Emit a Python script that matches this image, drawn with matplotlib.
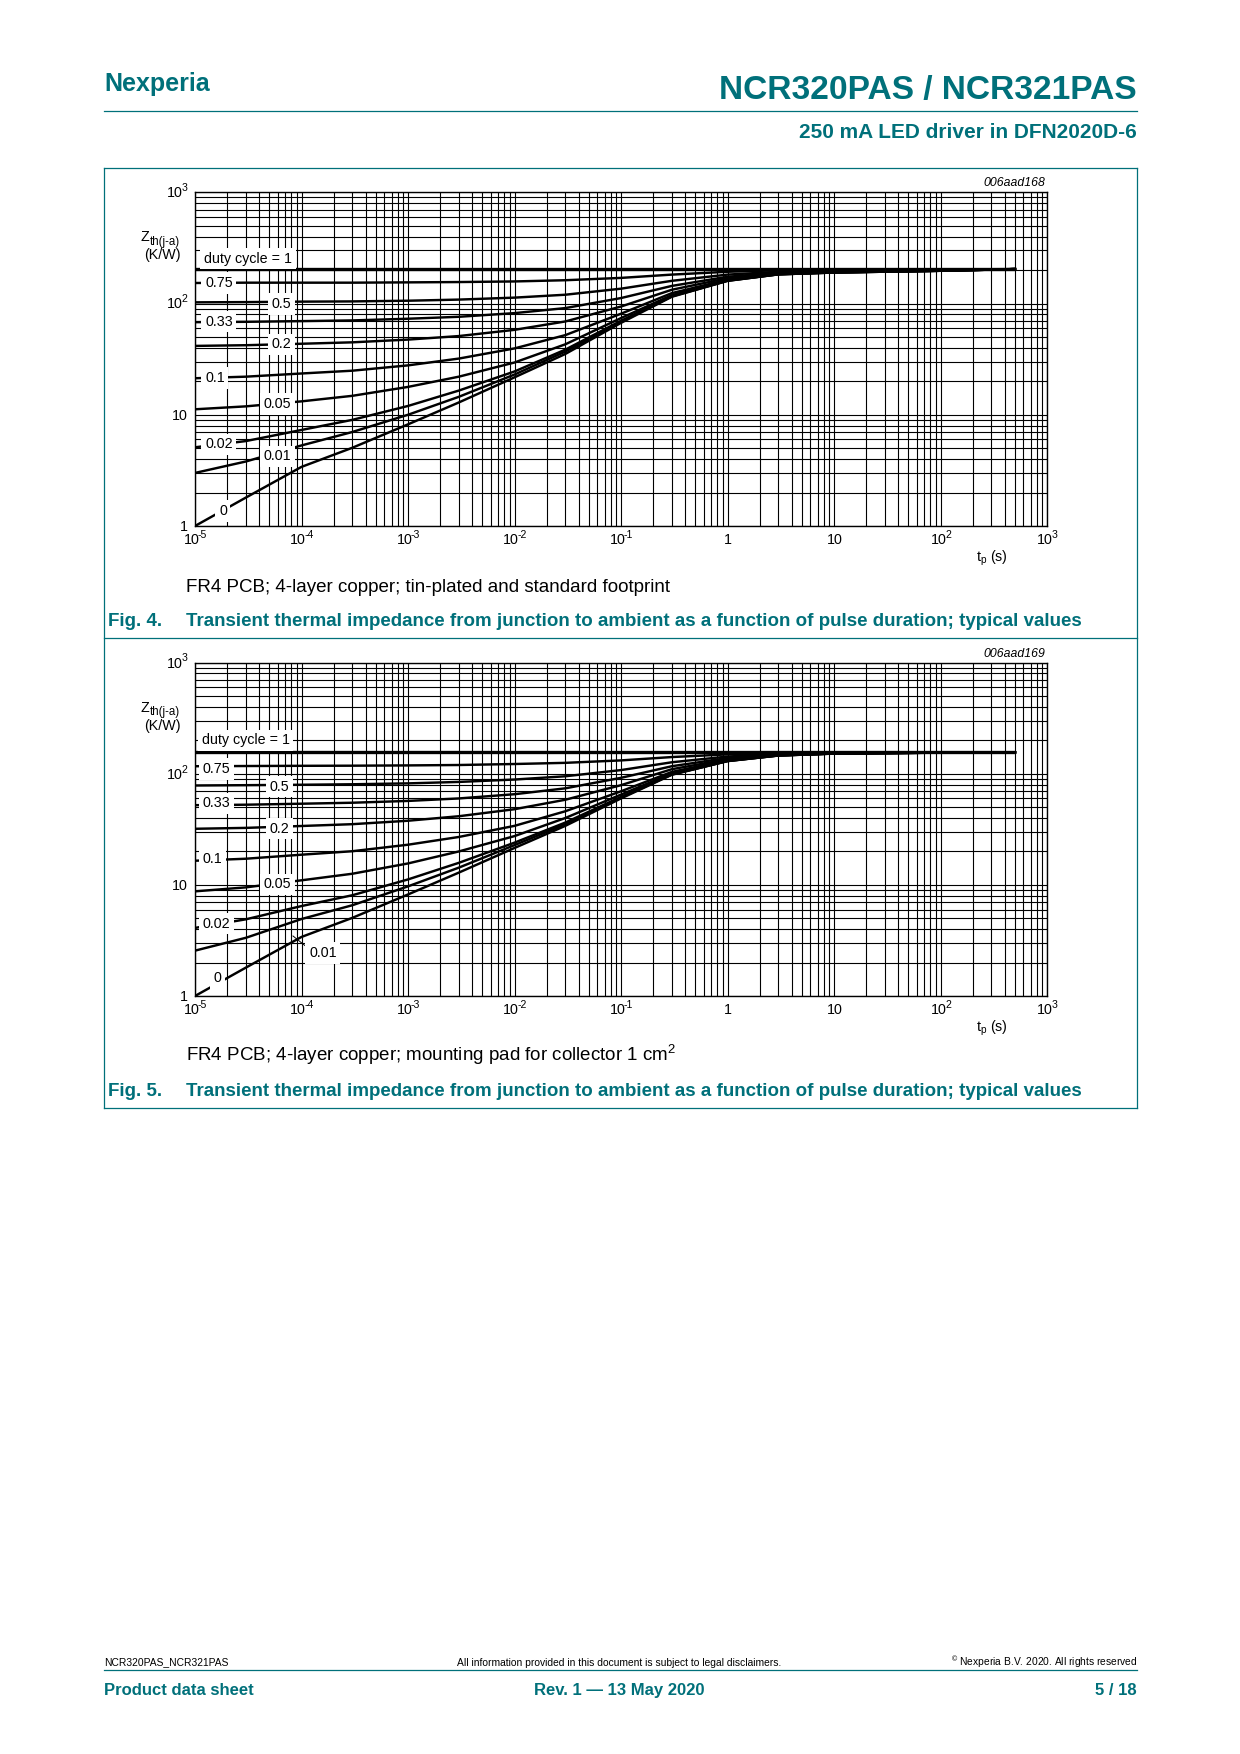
import matplotlib
matplotlib.use('Agg')
import matplotlib.pyplot as plt
import numpy as np
from matplotlib.ticker import LogLocator, FixedLocator, NullFormatter
from matplotlib.lines import Line2D

plt.rcParams['font.family'] = ['Liberation Sans', 'DejaVu Sans']
plt.rcParams['mathtext.fontset'] = 'custom'
plt.rcParams['mathtext.rm'] = 'Liberation Sans'
plt.rcParams['mathtext.it'] = 'Liberation Sans:italic'
plt.rcParams['mathtext.bf'] = 'Liberation Sans:bold'

# ---------------- data ----------------
tp = [1e-5, 3e-5, 1e-4, 3e-4, 1e-3, 3e-3, 1e-2, 3e-2, 1e-1, 3e-1, 1, 3, 10, 100, 500]
tp_flat = [1e-5, 500]

duty_labels = ['duty cycle = 1', '0.75', '0.5', '0.33', '0.2', '0.1', '0.05', '0.02', '0.01', '0']

# Fig. 4 : standard footprint
f4_d1 = [204, 204]
f4_d075 = [153, 154, 154, 154, 155, 156, 158, 162, 170, 182, 193, 199, 201, 202, 204]
f4_d05 = [102.5, 103, 104, 104.5, 106, 108.5, 113, 120, 136, 160, 182, 193, 197, 200, 204]
f4_d033 = [68, 68.5, 69.5, 70.5, 73, 76, 82, 91, 112, 144, 174, 190, 195, 199, 204]
f4_d02 = [41.6, 42.2, 43.5, 44.8, 47.4, 51, 58, 69, 94, 133, 169, 187, 193, 198, 204]
f4_d01 = [21.3, 22, 23.5, 24.9, 27.8, 32, 39.5, 52, 81, 124, 164, 185, 191, 197, 204]
f4_d005 = [11.2, 11.9, 13.2, 14.8, 17.8, 22, 29.5, 43, 74, 119, 162, 184, 191, 197, 204]
f4_d002 = [5.1, 5.8, 7.3, 9.0, 12, 16.5, 24.5, 38.5, 70, 117, 161, 183, 190, 197, 204]
f4_d001 = [3.0, 3.8, 5.3, 7.0, 10, 14.5, 23, 37, 68.5, 116, 160, 183, 190, 197, 204]
f4_d0 = [1.0, 1.8, 3.4, 5.05, 8.2, 12.9, 21.7, 35.2, 67, 115, 160, 183, 190, 197, 204]

# Fig. 5 : mounting pad 1 cm2
f5_d1 = [156, 156]
f5_d075 = [117, 117.5, 118, 118.3, 119, 120, 122.5, 125.5, 132, 141.5, 149.5, 153.5, 155, 155.8, 156]
f5_d05 = [78.5, 79, 79.7, 80.5, 82, 84.5, 88.8, 95, 108, 127, 143, 151, 154, 155.5, 156]
f5_d033 = [52.2, 52.7, 53.8, 54.9, 57, 60, 65.5, 74, 92, 117, 138.6, 149.3, 153.3, 155.4, 156]
f5_d02 = [32, 32.6, 33.9, 35.2, 37.8, 41.5, 48, 58.4, 79, 110, 135, 148, 152.8, 155.2, 156]
f5_d01 = [16.5, 17.2, 18.7, 20.1, 23, 27, 34, 46, 69.6, 104, 132.6, 147, 152.4, 155.1, 156]
f5_d005 = [8.75, 9.5, 11, 12.6, 15.6, 20, 27.5, 40, 65, 101, 131.4, 146.6, 152.3, 155.1, 156]
f5_d002 = [4.1, 4.9, 6.45, 8.07, 11.2, 15.8, 24, 36.4, 62, 99, 130.5, 146.2, 152.1, 155, 156]
f5_d001 = [2.56, 3.34, 4.93, 6.56, 9.7, 14.3, 22.8, 35.2, 61, 98.6, 130.3, 146.1, 152, 155, 156]
f5_d0 = [1.0, 1.8, 3.4, 5.05, 8.2, 12.9, 21.5, 34, 60, 98, 130, 146, 152, 155, 156]

x_ticks = [1e-5, 1e-4, 1e-3, 1e-2, 1e-1, 1, 10, 100, 1000]
x_ticklabels = ['10^-5', '10^-4', '10^-3', '10^-2', '10^-1', '1', '10', '10^2', '10^3']
y_ticks = [1, 10, 100, 1000]
y_ticklabels = ['1', '10', '10^2', '10^3']

# ---------------- figure ----------------
W, H = 1240, 1754
TEAL = '#00707a'
fig = plt.figure(figsize=(W / 100, H / 100), dpi=100)
renderer = fig.canvas.get_renderer()


def T(x, y, s, **kw):
    return fig.text(x / W, 1 - y / H, s, **kw)


def HL(x0, x1, y, color=TEAL, lw=0.9):
    fig.add_artist(Line2D([x0 / W, x1 / W], [1 - y / H, 1 - y / H], color=color, lw=lw,
                          transform=fig.transFigure))


def VL(x, y0, y1, color=TEAL, lw=0.9):
    fig.add_artist(Line2D([x / W, x / W], [1 - y0 / H, 1 - y1 / H], color=color, lw=lw,
                          transform=fig.transFigure))


BASE_FS, EXP_FS = 10.3, 7.6


def power_label(label, x, y, align):
    """Draw '10^-5' style label; x is centre (align='center') or right edge (align='right');
    y is the vertical centre of the base digits (figure px from top)."""
    if '^' in label:
        base, exp = label.split('^')
    else:
        base, exp = label, ''
    tb = T(0, 0, base, fontsize=BASE_FS, ha='left', va='center')
    wb = tb.get_window_extent(renderer).width - 1.5
    we = 0
    te = None
    if exp:
        te = T(0, 0, exp, fontsize=EXP_FS, ha='left', va='center')
        we = te.get_window_extent(renderer).width - 1.0
    total = wb + we
    x0 = x - total / 2 if align == 'center' else x - total
    tb.set_position((x0 / W, 1 - y / H))
    if te is not None:
        te.set_position(((x0 + wb) / W, 1 - (y - 5.0) / H))


# header
T(104, 91.5, 'Nexperia', fontsize=18, fontweight='bold', color=TEAL, va='baseline', ha='left')
T(1137, 99.5, 'NCR320PAS / NCR321PAS', fontsize=24.1, fontweight='bold', color=TEAL,
  va='baseline', ha='right')
HL(104, 1137, 110.6)
T(1137, 138.5, '250 mA LED driver in DFN2020D-6', fontsize=15, fontweight='bold', color=TEAL,
  va='baseline', ha='right')

# outer box
BOX_L, BOX_R, BOX_T, BOX_B, BOX_M = 104, 1137, 167.6, 1107.5, 637.5
HL(BOX_L, BOX_R, BOX_T)
HL(BOX_L, BOX_R, BOX_M)
HL(BOX_L, BOX_R, BOX_B)
VL(BOX_L, BOX_T, BOX_B)
VL(BOX_R, BOX_T, BOX_B)

AX_L, AX_R = 195, 1047
LABEL_FS = 10.3


def make_chart(top, bottom, series, label_pos, code, leader=None):
    ax = fig.add_axes([AX_L / W, 1 - bottom / H, (AX_R - AX_L) / W, (bottom - top) / H])
    ax.set_xscale('log')
    ax.set_yscale('log')
    ax.set_xlim(1e-5, 1e3)
    ax.set_ylim(1, 1e3)
    ax.xaxis.set_major_locator(FixedLocator(x_ticks))
    ax.yaxis.set_major_locator(FixedLocator(y_ticks))
    ax.xaxis.set_minor_locator(LogLocator(base=10, subs=np.arange(2, 10), numticks=100))
    ax.yaxis.set_minor_locator(LogLocator(base=10, subs=np.arange(2, 10), numticks=100))
    ax.xaxis.set_major_formatter(NullFormatter())
    ax.yaxis.set_major_formatter(NullFormatter())
    ax.xaxis.set_minor_formatter(NullFormatter())
    ax.yaxis.set_minor_formatter(NullFormatter())
    ax.tick_params(which='both', length=0)
    ax.grid(which='both', color='black', lw=0.8)
    ax.set_axisbelow(True)
    for sp in ax.spines.values():
        sp.set_linewidth(1.0)
        sp.set_color('black')
    for i, vals in enumerate(series):
        if i == 0:
            ax.plot(tp_flat, vals, color='black', lw=2.4, solid_capstyle='butt', zorder=3)
        else:
            ax.plot(tp, vals, color='black', lw=1.75, solid_joinstyle='round', zorder=3)
    # tick labels placed via the axes' own scale
    for t, lab in zip(x_ticks, x_ticklabels):
        xd, _ = ax.transData.transform((t, 1))
        power_label(lab, xd, bottom + 14.5, 'center')
    for t, lab in zip(y_ticks, y_ticklabels):
        _, yd = ax.transData.transform((1e-5, t))
        power_label(lab, AX_L - 8.5, H - yd + 0.8, 'right')
    # curve labels (white boxes)
    for txt, (x, y) in zip(duty_labels, label_pos):
        T(x, y + 5, txt, fontsize=LABEL_FS, ha='left', va='baseline', color='black',
          bbox=dict(facecolor='white', edgecolor='none', pad=2.6), zorder=5)
    if leader is not None:
        (x0, y0), (x1, y1) = leader
        fig.add_artist(Line2D([x0 / W, x1 / W], [1 - y0 / H, 1 - y1 / H], color='black', lw=0.7,
                              transform=fig.transFigure, zorder=4))
    # axis titles
    T(140.5, top + 45, 'Z', fontsize=LABEL_FS, ha='left', va='center')
    T(150, top + 49.5, 'th(j-a)', fontsize=8.3, ha='left', va='center')
    T(162, top + 63, '(K/W)', fontsize=LABEL_FS, ha='center', va='center')
    T(AX_R - 2, top - 9, code, fontsize=8.8, style='italic', ha='right', va='center')
    T(976, bottom + 32.5, '$\\mathregular{t_p}$ (s)', fontsize=LABEL_FS, ha='left', va='center')
    return ax


series4 = [f4_d1, f4_d075, f4_d05, f4_d033, f4_d02, f4_d01, f4_d005, f4_d002, f4_d001, f4_d0]
series5 = [f5_d1, f5_d075, f5_d05, f5_d033, f5_d02, f5_d01, f5_d005, f5_d002, f5_d001, f5_d0]

pos4 = [(204, 257.5), (205, 282), (272, 303), (205, 320.5), (272, 343.5), (205, 377),
        (264, 403), (205, 443.5), (264, 455.5), (219, 510)]
pos5 = [(201.7, 739.3), (203, 768), (270, 785.7), (203, 802.3), (270, 827.7), (202.7, 857.7),
        (264, 883.3), (203, 922.6), (309, 952), (214, 977)]

make_chart(192.3, 526, series4, pos4, '006aad168')
make_chart(662.7, 996, series5, pos5, '006aad169', leader=((293, 936), (308, 948)))

# captions
CAP = 'Transient thermal impedance from junction to ambient as a function of pulse duration; typical values'
T(185.5, 592, 'FR4 PCB; 4-layer copper; tin-plated and standard footprint', fontsize=13.5,
  ha='left', va='baseline')
T(108, 626.5, 'Fig. 4.', fontsize=13.5, fontweight='bold', color=TEAL, ha='left', va='baseline')
T(185.5, 626.5, CAP, fontsize=13.5, fontweight='bold', color=TEAL, ha='left', va='baseline')

T(185.5, 1061, 'FR4 PCB; 4-layer copper; mounting pad for collector 1 cm$^{\\mathregular{2}}$',
  fontsize=13.5, ha='left', va='baseline')
T(108, 1095.5, 'Fig. 5.', fontsize=13.5, fontweight='bold', color=TEAL, ha='left', va='baseline')
T(185.5, 1095.5, CAP, fontsize=13.5, fontweight='bold', color=TEAL, ha='left', va='baseline')

# footer
T(104, 1662.5, 'NCR320PAS_NCR321PAS', fontsize=7.4, ha='left', va='center')
T(619, 1662.5, 'All information provided in this document is subject to legal disclaimers.',
  fontsize=7.4, ha='center', va='center')
T(1137, 1662.5, '$^{\\copyright}$ Nexperia B.V. 2020. All rights reserved', fontsize=7.4,
  ha='right', va='center')
HL(104, 1137, 1669.5)
T(104, 1690.5, 'Product data sheet', fontsize=12, fontweight='bold', color=TEAL, ha='left', va='center')
T(619, 1690.5, 'Rev. 1 \u2014 13 May 2020', fontsize=12, fontweight='bold', color=TEAL,
  ha='center', va='center')
T(1137, 1690.5, '5 / 18', fontsize=12, fontweight='bold', color=TEAL, ha='right', va='center')

fig.savefig('out.png', dpi=100, facecolor='white')
